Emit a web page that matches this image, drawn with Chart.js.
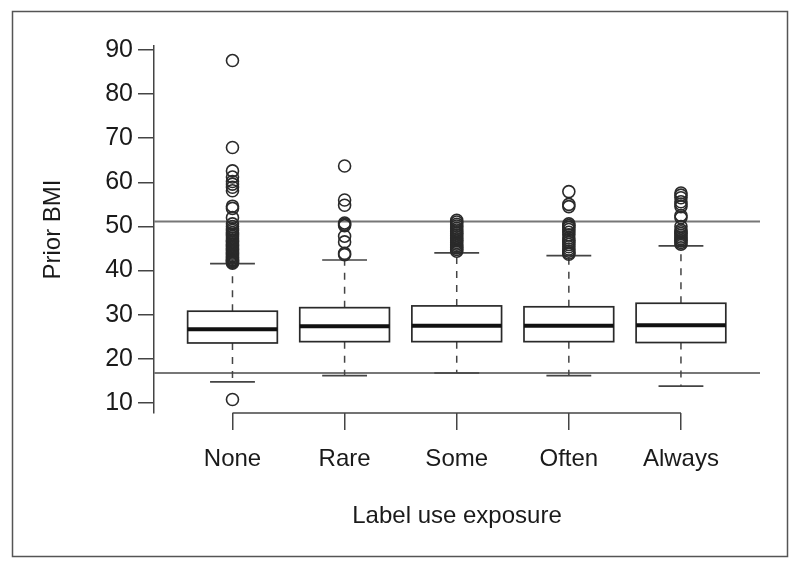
<!DOCTYPE html>
<html>
<head>
<meta charset="utf-8">
<script src="https://cdn.jsdelivr.net/npm/chart.js@4.4.1/dist/chart.umd.min.js"></script>
<style>
  html, body { margin: 0; padding: 0; background: #fff; }
  canvas { display: block; }
</style>
</head>
<body>
<canvas id="c" width="800" height="569"></canvas>
<script>
// ---- data ----
const categories = ['None', 'Rare', 'Some', 'Often', 'Always'];
const q1 = [23.6, 23.9, 23.9, 23.9, 23.7];
const medians = [26.7, 27.4, 27.5, 27.5, 27.6];
const q3 = [30.8, 31.6, 32.0, 31.8, 32.6];
const whiskerLow = [14.8, 16.2, 16.8, 16.2, 13.8];
const whiskerHigh = [41.6, 42.4, 44.0, 43.4, 45.6];
const outliersNone = [87.6, 67.9, 62.6, 61.2, 60.2, 59.6, 58.9, 58.1, 54.6, 54.1, 52.0, 50.6, 50.0, 49.5, 49.1, 48.6, 48.2, 47.8, 47.4, 47.0, 46.7, 46.4, 46.1, 45.8, 45.5, 45.2, 44.9, 44.6, 44.3, 44.0, 43.7, 43.4, 43.1, 42.8, 42.5, 42.3, 42.1, 41.9, 41.7, 10.8];
const outliersRare = [63.7, 56.0, 54.8, 50.8, 50.5, 50.2, 47.8, 46.5, 43.9, 43.6];
const outliersSome = [51.4, 51.0, 50.5, 50.1, 49.6, 49.2, 48.8, 48.4, 48.0, 47.6, 47.2, 46.8, 46.4, 46.0, 45.6, 45.2, 44.8, 44.4];
const outliersOften = [57.9, 55.0, 54.5, 50.6, 50.2, 49.8, 49.3, 48.7, 48.1, 47.4, 46.9, 46.4, 45.9, 45.4, 44.9, 44.4, 44.0, 43.7];
const outliersAlways = [57.6, 57.1, 56.5, 55.6, 55.1, 54.5, 52.5, 52.0, 50.0, 49.2, 48.8, 48.4, 48.0, 47.6, 47.2, 46.8, 46.4, 46.0];
const referenceLines = [51.1, 16.8];
const yTicks = [10, 20, 30, 40, 50, 60, 70, 80, 90];
const yTitle = 'Prior BMI';
const xTitle = 'Label use exposure';

// ---- build datasets ----
const outlierGroups = [outliersNone, outliersRare, outliersSome, outliersOften, outliersAlways];
const outlierPoints = [];
outlierGroups.forEach((g, i) => g.forEach(v => outlierPoints.push({ x: i + 1, y: v })));

const FONT = "'Liberation Sans', Arial, Helvetica, sans-serif";
const INK = '#2a2a2a';
const TEXT = '#1a1a1a';

const boxPlugin = {
  id: 'boxes',
  beforeDraw(chart) {
    const ctx = chart.ctx;
    ctx.save();
    ctx.fillStyle = '#fff';
    ctx.fillRect(0, 0, chart.width, chart.height);
    ctx.strokeStyle = '#555';
    ctx.lineWidth = 1.5;
    ctx.strokeRect(12.5, 11.5, 775, 545);
    ctx.restore();
  },
  beforeDatasetsDraw(chart) {
    const ctx = chart.ctx;
    const xs = chart.scales.x, ys = chart.scales.y;
    const area = chart.chartArea;
    ctx.save();
    // x axis line from first to last category
    ctx.strokeStyle = '#444';
    ctx.lineWidth = 1.5;
    ctx.beginPath();
    ctx.moveTo(xs.getPixelForValue(1), area.bottom);
    ctx.lineTo(xs.getPixelForValue(categories.length), area.bottom);
    ctx.stroke();
    // reference lines
    ctx.strokeStyle = '#777';
    ctx.lineWidth = 2;
    referenceLines.forEach(v => {
      const y = ys.getPixelForValue(v);
      ctx.beginPath();
      ctx.moveTo(area.left, y);
      ctx.lineTo(area.right, y);
      ctx.stroke();
    });
    // boxes
    const unit = xs.getPixelForValue(2) - xs.getPixelForValue(1);
    const half = unit * 0.4;
    categories.forEach((c, i) => {
      const cx = xs.getPixelForValue(i + 1);
      const yq1 = ys.getPixelForValue(q1[i]);
      const yq3 = ys.getPixelForValue(q3[i]);
      const ym = ys.getPixelForValue(medians[i]);
      const ylo = ys.getPixelForValue(whiskerLow[i]);
      const yhi = ys.getPixelForValue(whiskerHigh[i]);
      // whiskers (dashed)
      ctx.strokeStyle = '#444';
      ctx.lineWidth = 1.5;
      ctx.setLineDash([7, 7]);
      ctx.beginPath();
      ctx.moveTo(cx, yq3); ctx.lineTo(cx, yhi);
      ctx.moveTo(cx, yq1); ctx.lineTo(cx, ylo);
      ctx.stroke();
      ctx.setLineDash([]);
      // staples
      ctx.lineWidth = 1.7;
      ctx.beginPath();
      ctx.moveTo(cx - half / 2, yhi); ctx.lineTo(cx + half / 2, yhi);
      ctx.moveTo(cx - half / 2, ylo); ctx.lineTo(cx + half / 2, ylo);
      ctx.stroke();
      // box
      ctx.strokeStyle = INK;
      ctx.lineWidth = 1.7;
      ctx.fillStyle = '#fff';
      ctx.fillRect(cx - half, yq3, 2 * half, yq1 - yq3);
      ctx.strokeRect(cx - half, yq3, 2 * half, yq1 - yq3);
      // median
      ctx.strokeStyle = '#111';
      ctx.lineWidth = 4;
      ctx.beginPath();
      ctx.moveTo(cx - half, ym); ctx.lineTo(cx + half, ym);
      ctx.stroke();
    });
    ctx.restore();
  }
};

new Chart(document.getElementById('c'), {
  type: 'scatter',
  data: {
    datasets: [{
      data: outlierPoints,
      pointStyle: 'circle',
      pointRadius: 6,
      pointHoverRadius: 6,
      borderWidth: 1.6,
      borderColor: INK,
      backgroundColor: 'rgba(0,0,0,0)'
    }]
  },
  options: {
    responsive: false,
    devicePixelRatio: 1,
    animation: false,
    events: [],
    layout: { padding: { top: 46, right: 40, left: 39, bottom: 38 } },
    plugins: { legend: { display: false }, tooltip: { enabled: false } },
    scales: {
      x: {
        type: 'linear',
        min: 0.30,
        max: 5.705,
        afterBuildTicks(s) { s.ticks = categories.map((c, i) => ({ value: i + 1 })); },
        afterFit(s) { s.height = 118; },
        ticks: {
          callback: (v) => categories[v - 1],
          font: { family: FONT, size: 24 },
          color: TEXT,
          padding: 15,
          maxRotation: 0,
          autoSkip: false
        },
        grid: { drawOnChartArea: false, drawTicks: true, tickLength: 17, color: '#444', lineWidth: 1.5 },
        border: { display: false },
        title: { display: true, text: xTitle, font: { family: FONT, size: 24 }, color: TEXT, padding: 0 }
      },
      y: {
        type: 'linear',
        min: 7.73,
        max: 90.9,
        afterBuildTicks(s) { s.ticks = yTicks.map(v => ({ value: v })); },
        afterFit(s) { s.width = 115; },
        ticks: {
          font: { family: FONT, size: 25 },
          color: TEXT,
          padding: 5,
          autoSkip: false
        },
        grid: { drawOnChartArea: false, drawTicks: true, tickLength: 16, color: '#444', lineWidth: 1.5 },
        border: { display: true, color: '#444', width: 1.5 },
        title: { display: true, text: yTitle, font: { family: FONT, size: 24 }, color: TEXT, padding: 0 }
      }
    }
  },
  plugins: [boxPlugin]
});
</script>
</body>
</html>
